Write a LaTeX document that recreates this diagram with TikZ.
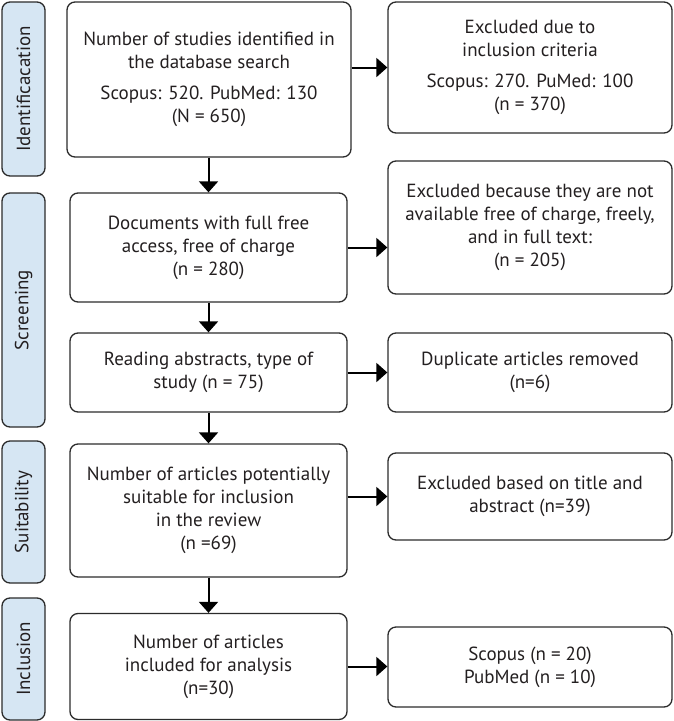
\documentclass[tikz,border=0pt]{standalone}
\usepackage{fontspec}
\setmainfont{PT Sans}
\usetikzlibrary{arrows.meta}
\definecolor{tabblue}{HTML}{D6E6F3}
\definecolor{edge}{HTML}{2B2B2B}
\definecolor{txt}{HTML}{231F20}
\tikzset{
  box/.style={draw=edge, line width=1.3pt, rounded corners=8pt, align=center,
    inner sep=0pt, text=txt, font=\fontsize{19}{23}\selectfont},
  tabbox/.style={draw=edge, line width=1.3pt, rounded corners=8pt, fill=tabblue,
    inner sep=0pt, text=txt, font=\fontsize{19}{23}\selectfont},
  flow/.style={line width=2pt, -{Triangle[length=11pt,width=19pt]}},
}
\begin{document}
\begin{tikzpicture}[x=1pt,y=-1pt]
\useasboundingbox (0,0) rectangle (674,721);
% tabs
\node[tabbox, minimum width=43pt, minimum height=174pt] (t1) at (23.5,89) {};
\node[rotate=90, text=txt, font=\fontsize{19}{23}\selectfont] (t1l) at (t1.center) {Identificacation};
\node[tabbox, minimum width=43pt, minimum height=234pt] (t2) at (23.5,310) {};
\node[rotate=90, text=txt, font=\fontsize{19}{23}\selectfont] (t2l) at (t2.center) {Screening};
\node[tabbox, minimum width=43pt, minimum height=142pt] (t3) at (23.5,512) {};
\node[rotate=90, text=txt, font=\fontsize{19}{23}\selectfont] (t3l) at (t3.center) {Suitability};
\node[tabbox, minimum width=43pt, minimum height=122pt] (t4) at (23.5,659) {};
\node[rotate=90, text=txt, font=\fontsize{19}{23}\selectfont] (t4l) at (t4.center) {Inclusion};
% main boxes
\node[box, minimum width=284pt, minimum height=155pt] (b1) at (209,79.5)
  {Number of studies identified in\\the database search\\[8pt]Scopus: 520. PubMed: 130\\(N = 650)};
\node[box, minimum width=277pt, minimum height=109pt] (b2) at (208.5,247.5)
  {Documents with full free\\access, free of charge\\(n = 280)};
\node[box, minimum width=277pt, minimum height=79pt] (b3) at (208.5,372.5)
  {Reading abstracts, type of\\study (n = 75)};
\node[box, minimum width=277pt, minimum height=133pt] (b4) at (208.5,510.5)
  {Number of articles potentially\\suitable for inclusion\\in the review\\(n =69)};
\node[box, minimum width=277pt, minimum height=106pt] (b5) at (208.5,666.5)
  {Number of articles\\included for analysis\\(n=30)};
% right boxes
\node[box, minimum width=284pt, minimum height=131pt] (r1) at (530,67.5)
  {Excluded due to\\inclusion criteria\\[8pt]Scopus: 270. PuMed: 100\\(n = 370)};
\node[box, minimum width=284pt, minimum height=133pt] (r2) at (530,227.5)
  {Excluded because they are not\\available free of charge, freely,\\and in full text:\\(n = 205)};
\node[box, minimum width=284pt, minimum height=79pt] (r3) at (530,372.5)
  {Duplicate articles removed\\(n=6)};
\node[box, minimum width=284pt, minimum height=87pt] (r4) at (530,496.5)
  {Excluded based on title and\\abstract (n=39)};
\node[box, minimum width=284pt, minimum height=80pt] (r5) at (530,667)
  {Scopus (n = 20)\\PubMed (n = 10)};
% vertical arrows
\draw[flow] (b2.north |- b1.south) -- (b2.north);
\draw[flow] (b2.south) -- (b3.north);
\draw[flow] (b3.south) -- (b4.north);
\draw[flow] (b4.south) -- (b5.north);
% horizontal arrows
\draw[flow] (r1.west -| b1.east) -- (r1.west);
\draw[flow] (b2.east) -- (b2.east -| r2.west);
\draw[flow] (b3.east) -- (r3.west);
\draw[flow] (r4.west -| b4.east) -- (r4.west);
\draw[flow] (b5.east) -- (b5.east -| r5.west);
\end{tikzpicture}
\end{document}
